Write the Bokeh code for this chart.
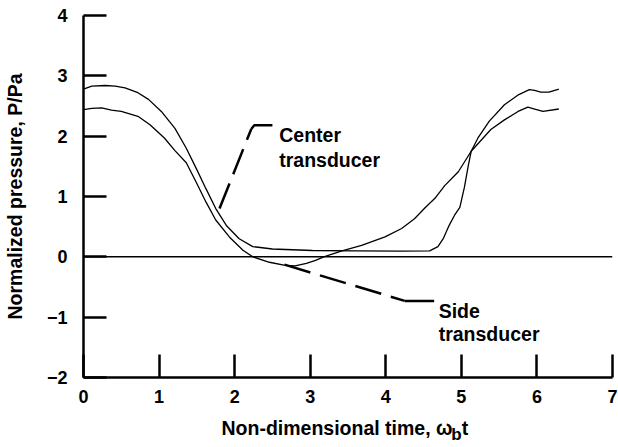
from bokeh.plotting import figure
from bokeh.models import Range1d, FixedTicker, Span, Label, LinearAxis
from bokeh.embed import file_html
from bokeh.resources import INLINE

# --- data ---
center_t = [0, 0.11, 0.29, 0.42, 0.55, 0.72, 0.86, 1.03, 1.21, 1.36, 1.49, 1.62, 1.75,
            1.89, 2.06, 2.24, 2.5, 3.03, 3.6, 4.2, 4.58, 4.69, 4.76, 4.83, 4.91, 4.98,
            5.04, 5.09, 5.13, 5.22, 5.37, 5.57, 5.76, 5.9, 5.97, 6.05, 6.16, 6.29]
center_p = [2.78, 2.83, 2.84, 2.83, 2.80, 2.72, 2.61, 2.41, 2.13, 1.80, 1.47, 1.13, 0.80,
            0.52, 0.30, 0.17, 0.13, 0.105, 0.10, 0.095, 0.10, 0.17, 0.30, 0.50, 0.69, 0.82,
            1.15, 1.50, 1.75, 1.97, 2.25, 2.52, 2.69, 2.77, 2.76, 2.73, 2.73, 2.78]

side_t = [0, 0.11, 0.24, 0.37, 0.5, 0.72, 0.88, 1.07, 1.21, 1.36, 1.49, 1.62, 1.75, 1.93,
          2.11, 2.24, 2.46, 2.67, 2.8, 2.95, 3.07, 3.18, 3.42, 3.68, 3.99, 4.21, 4.38, 4.51,
          4.65, 4.78, 4.96, 5.13, 5.39, 5.57, 5.75, 5.88, 5.97, 6.08, 6.29]
side_p = [2.44, 2.46, 2.47, 2.43, 2.41, 2.33, 2.19, 1.97, 1.76, 1.56, 1.24, 0.91, 0.61, 0.33,
          0.11, 0.0, -0.09, -0.14, -0.15, -0.11, -0.06, 0.0, 0.10, 0.19, 0.33, 0.47, 0.63, 0.80,
          0.97, 1.18, 1.41, 1.75, 2.11, 2.27, 2.41, 2.48, 2.45, 2.41, 2.45]

# leader lines for the callouts
center_lead_dash_t = [1.80, 2.22]
center_lead_dash_p = [0.80, 2.12]
center_lead_solid_t = [2.22, 2.26, 2.50]
center_lead_solid_p = [2.12, 2.18, 2.18]
side_lead_dash_t = [2.66, 4.25]
side_lead_dash_p = [-0.13, -0.73]
side_lead_solid_t = [4.25, 4.64]
side_lead_solid_p = [-0.73, -0.73]

x_ticks = [0, 1, 2, 3, 4, 5, 6, 7]
y_ticks = [-2, -1, 0, 1, 2, 3, 4]
y_tick_labels = {-2: "\u22122", -1: "\u22121"}

# x-axis title pieces (text, centre position along the time axis)
x_title_main = ("Non-dimensional time, \u03c9", 3.355)
x_title_sub = ("b", 4.934)
x_title_end = ("t", 5.049)

FONT = "Liberation Sans"

p = figure(width=618, height=447, output_backend="svg", toolbar_location=None,
           x_range=Range1d(0, 7), y_range=Range1d(-2, 4),
           min_border_left=80, min_border_right=6, min_border_top=15, min_border_bottom=70,
           background_fill_color="white", border_fill_color="white")
p.outline_line_color = None
p.grid.visible = False

for ax in (p.xaxis[0], p.yaxis[0]):
    ax.axis_line_width = 2.5
    ax.axis_line_color = "black"
    ax.major_tick_line_width = 2.5
    ax.major_tick_line_color = "black"
    ax.major_tick_in = 23
    ax.major_tick_out = 0
    ax.minor_tick_line_color = None
    ax.major_label_text_font = FONT
    ax.major_label_text_font_style = "bold"
    ax.major_label_text_font_size = "18px"
    ax.major_label_text_color = "black"

p.xaxis.ticker = FixedTicker(ticks=x_ticks)
p.yaxis.ticker = FixedTicker(ticks=y_ticks)
p.yaxis.major_label_overrides = y_tick_labels
p.xaxis.major_label_standoff = 12
p.yaxis.major_label_standoff = 16

p.yaxis.axis_label = "Normalized pressure, P/Pa"
p.yaxis.axis_label_text_font = FONT
p.yaxis.axis_label_text_font_style = "bold"
p.yaxis.axis_label_text_font_size = "19.5px"
p.yaxis.axis_label_text_color = "black"
p.yaxis.axis_label_standoff = 18


def title_axis(items, size, standoff):
    ax = LinearAxis(ticker=FixedTicker(ticks=[c for _, c in items]),
                    major_label_overrides={c: t for t, c in items},
                    axis_line_color=None, major_tick_line_color=None,
                    minor_tick_line_color=None, major_tick_in=0, major_tick_out=0,
                    major_label_standoff=standoff,
                    major_label_text_font=FONT, major_label_text_font_style="bold",
                    major_label_text_font_size=size, major_label_text_color="black")
    p.add_layout(ax, "below")

title_axis([x_title_main, x_title_end], "19.5px", 11)
title_axis([x_title_sub], "17px", -17)

p.add_layout(Span(location=0, dimension="width", line_color="black", line_width=1.5))

p.line(center_t, center_p, line_color="black", line_width=1.3)
p.line(side_t, side_p, line_color="black", line_width=1.3)

p.line(center_lead_dash_t, center_lead_dash_p, line_color="black", line_width=2.5, line_dash="27 10")
p.line(center_lead_solid_t, center_lead_solid_p, line_color="black", line_width=2.5)
p.line(side_lead_dash_t, side_lead_dash_p, line_color="black", line_width=2.5, line_dash="27 10")
p.line(side_lead_solid_t, side_lead_solid_p, line_color="black", line_width=2.5)

def lab(x, y, text, size="19.5px"):
    p.add_layout(Label(x=x, y=y, text=text, text_font=FONT, text_font_style="bold",
                       text_font_size=size, text_color="black", text_align="left",
                       text_baseline="alphabetic"))

lab(2.59, 2.02, "Center")
lab(2.59, 1.60, "transducer")
lab(4.70, -0.90, "Side")
lab(4.70, -1.28, "transducer")

html = file_html(p, INLINE)
open("out.html", "w").write(html)
